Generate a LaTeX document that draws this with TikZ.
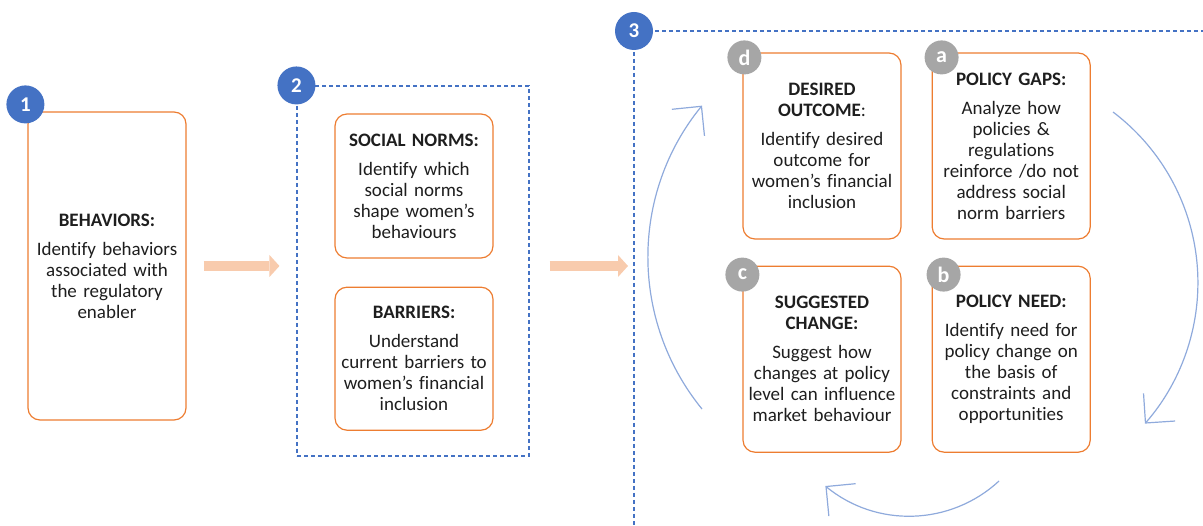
\documentclass[tikz,border=0pt]{standalone}
\usepackage{fontspec}
\setmainfont{Carlito}[Ligatures=NoCommon]
\usetikzlibrary{arrows.meta,positioning}
\definecolor{accent}{HTML}{ED7D31}
\definecolor{office}{HTML}{4472C4}
\definecolor{peach}{HTML}{F8CBAD}
\definecolor{cyclecol}{HTML}{8FAADC}
\definecolor{badgegrey}{HTML}{A6A6A6}
\definecolor{ink}{HTML}{1E1E1E}
\tikzset{%
  % boxes
  card/.style={draw=accent, line width=1.2pt, rounded corners=12pt, align=center,
    text=ink, text width=156pt, inner sep=0pt, minimum width=158pt,
    minimum height=186pt, font=\fontsize{19}{21}\selectfont},
  stage/.style={draw=office, line width=1.1pt, dash pattern=on 4pt off 3pt},
  % badges
  numbadge/.style={circle, fill=office, text=white, minimum size=38pt,
    inner sep=0pt, font=\fontsize{21}{21}\selectfont\bfseries},
  letbadge/.style={circle, fill=badgegrey, text=white, minimum size=34pt,
    inner sep=0pt, font=\fontsize{22}{22}\selectfont\bfseries},
  % arrows
  flow/.style={draw=peach, line width=10pt,
    -{Triangle[length=10pt, width=22pt, line width=0pt]}},
  cyc/.style={draw=cyclecol, line width=1.2pt,
    -{Straight Barb[length=21pt, width=42pt]}},
}
\newcommand{\cardnode}[4][]{%
  % #1 = extra TikZ options
  % #2 = node name
  % #3 = heading
  % #4 = text
  \node[card, #1] (#2) {{\bfseries #3}\\[8pt]#4};
}

\begin{document}
\begin{tikzpicture}[x=1pt, y=-1pt]
  \useasboundingbox (0,0) rectangle (1203,526);

  % Step 1
  \cardnode[at={(107,266)}, minimum height=308pt]{beh}{BEHAVIORS:}{Identify behaviors\\associated with\\the regulatory\\enabler}

  % Step 2
  \node[stage, minimum width=232pt, minimum height=370pt] (grp2) at (413,271) {};
  \cardnode[at={(414,186)}, minimum height=144pt]{norms}{SOCIAL NORMS:}{Identify which\\social norms\\shape women's\\behaviours}
  \cardnode[minimum height=143pt, below=28pt of norms]{barr}{BARRIERS:}{Understand\\current barriers to\\women's financial\\inclusion}

  % Step 3
  \coordinate (grp3) at (634,31);
  \draw[stage] (grp3) -- ++(569,0);
  \draw[stage] (grp3) -- ++(0,495);
  \cardnode[at={(822,146)}]{outc}{DESIRED\\OUTCOME{\mdseries:}}{Identify desired\\outcome for\\women's financial\\inclusion}
  \cardnode[right=30pt of outc]{gaps}{POLICY GAPS:}{Analyze how\\policies \&\\regulations\\reinforce /do not\\address social\\norm barriers}
  \cardnode[below=26pt of outc]{chg}{SUGGESTED\\CHANGE:}{Suggest how\\changes at policy\\level can influence\\market behaviour}
  \cardnode[right=30pt of chg]{need}{POLICY NEED:}{Identify need for\\policy change on\\the basis of\\constraints and\\opportunities}

  % Flow between steps
  \draw[flow, shorten <=17pt, shorten >=17pt] (beh.east) -- (beh.east -| grp2.west);
  \draw[flow, shorten <=20pt, shorten >=6pt] (grp2.east |- beh.east) -- (grp3 |- beh.east);

  % Cycle
  \coordinate (cycl) at (702,409);
  \coordinate (cycr) at (1113,112);
  \coordinate (cycb) at (999,481);
  \draw[cyc] (cycl) arc[start angle=140.8, end angle=219.2, radius=240];
  \draw[cyc] (cycr) arc[start angle=-52.9, end angle=41.2, radius=214];
  \draw[cyc] (cycb) arc[start angle=47.2, end angle=129.5, radius=132];

  % Badges
  \node[numbadge] (n1) at ([xshift=-2pt, yshift=7pt]beh.north west) {1};
  \node[numbadge] (n2) at (grp2.north west) {2};
  \node[numbadge] (n3) at (grp3) {3};
  \node[letbadge] (ld) at ([xshift=2pt, yshift=-5pt]outc.north west) {d};
  \node[letbadge] (la) at ([xshift=10pt, yshift=-5pt]gaps.north west) {a};
  \node[letbadge] (lc) at ([xshift=0pt, yshift=-9pt]chg.north west) {c};
  \node[letbadge] (lb) at ([xshift=12pt, yshift=-9pt]need.north west) {b};
\end{tikzpicture}
\end{document}
